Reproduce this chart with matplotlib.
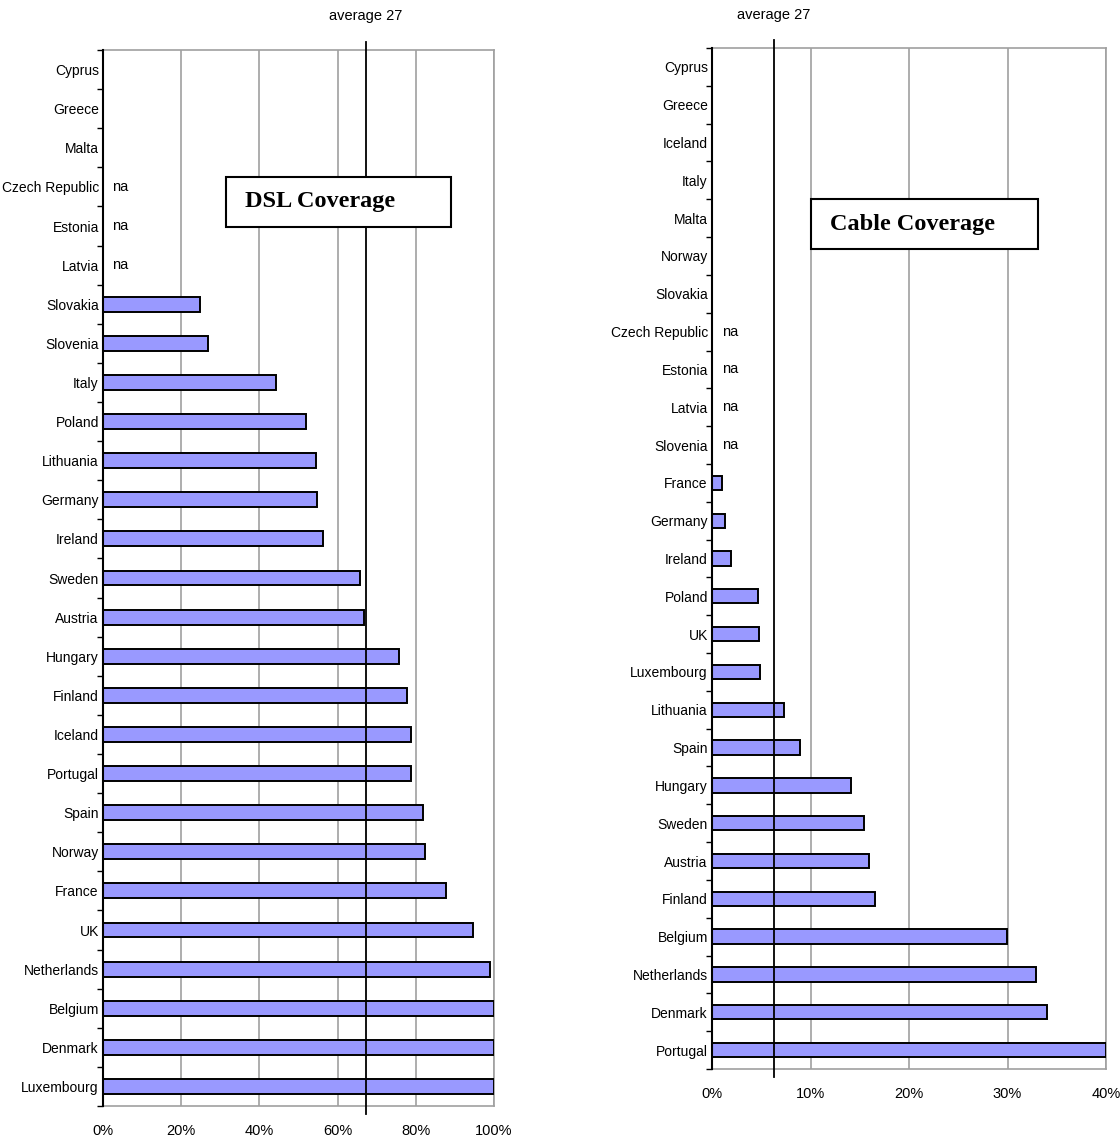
import matplotlib
matplotlib.use("Agg")
import matplotlib.pyplot as plt
from matplotlib.patches import Rectangle
from matplotlib.ticker import FuncFormatter

plt.rcParams["font.family"] = ["Liberation Sans Narrow", "Liberation Sans", "DejaVu Sans"]

# =====================
# data (top -> bottom), None = no bar, "na" = not available
# =====================
dsl_countries = ["Cyprus", "Greece", "Malta", "Czech Republic", "Estonia", "Latvia",
                 "Slovakia", "Slovenia", "Italy", "Poland", "Lithuania", "Germany",
                 "Ireland", "Sweden", "Austria", "Hungary", "Finland", "Iceland",
                 "Portugal", "Spain", "Norway", "France", "UK", "Netherlands",
                 "Belgium", "Denmark", "Luxembourg"]
dsl_values = [None, None, None, "na", "na", "na",
              24.8, 26.9, 44.2, 51.9, 54.5, 54.7,
              56.3, 65.7, 66.8, 75.7, 77.7, 78.8,
              78.8, 81.8, 82.4, 87.7, 94.6, 99.0,
              100, 100, 100]
dsl_average = 67.3

cable_countries = ["Cyprus", "Greece", "Iceland", "Italy", "Malta", "Norway", "Slovakia",
                   "Czech Republic", "Estonia", "Latvia", "Slovenia", "France", "Germany",
                   "Ireland", "Poland", "UK", "Luxembourg", "Lithuania", "Spain",
                   "Hungary", "Sweden", "Austria", "Finland", "Belgium", "Netherlands",
                   "Denmark", "Portugal"]
cable_values = [None, None, None, None, None, None, None,
                "na", "na", "na", "na", 1.0, 1.3,
                1.9, 4.7, 4.8, 4.9, 7.3, 8.9,
                14.1, 15.4, 15.9, 16.5, 29.9, 32.9,
                34.0, 40.0]
cable_average = 6.3

W, H = 1120, 1145
BAR_COLOR = "#9999ff"
FS = 10.5


def draw_panel(fig, rect, countries, values, xmax, step, average, title, box):
    ax = fig.add_axes(rect)
    n = len(countries)
    ys = list(range(n))
    for y, v in zip(ys, values):
        if isinstance(v, (int, float)):
            ax.barh(y, v, height=0.38, color=BAR_COLOR, edgecolor="black",
                    linewidth=1.4, zorder=3)
        elif v == "na":
            ax.text(xmax * 0.045, y, "na", ha="center", va="center", fontsize=FS)

    ax.set_ylim(n - 0.5, -0.5)
    ax.set_xlim(0, xmax)
    ax.set_yticks([y - 0.5 for y in range(n + 1)])
    ax.set_yticklabels([])
    ax.set_yticks(ys, minor=True)
    ax.set_yticklabels(countries, minor=True, fontsize=10)
    ax.tick_params(axis="y", which="minor", length=0, pad=3)
    ax.tick_params(axis="y", which="major", length=4, width=1, color="black")

    ax.set_xticks([i * step for i in range(int(round(xmax / step)) + 1)])
    ax.xaxis.set_major_formatter(FuncFormatter(lambda x, p: f"{x:.0f}%"))
    ax.tick_params(axis="x", length=0, pad=13, labelsize=FS)
    ax.grid(axis="x", color="#a0a0a0", linewidth=1.2, zorder=0)

    for side in ["top", "right", "bottom"]:
        ax.spines[side].set_color("#a0a0a0")
        ax.spines[side].set_linewidth(1.2)
    ax.spines["left"].set_color("black")
    ax.spines["left"].set_linewidth(1.5)
    ax.spines["left"].set_zorder(5)

    # average line sticks out of the plot area
    ax.plot([average, average], [-0.7, n - 0.3], color="black", linewidth=1.3,
            zorder=4, clip_on=False)
    ax.text(average, -1.2, "average 27", ha="center", va="bottom", fontsize=FS)

    # title box
    x0, y0, x1, y1 = box
    fig.add_artist(Rectangle((x0 / W, 1 - y1 / H), (x1 - x0) / W, (y1 - y0) / H,
                             transform=fig.transFigure, facecolor="white",
                             edgecolor="black", linewidth=1.5, zorder=10))
    fig.text((x0 + 19) / W, 1 - (y0 + y1) / 2 / H, title,
             family=["Liberation Serif", "DejaVu Serif"], fontweight="bold",
             fontsize=17.5, va="center", ha="left", zorder=11)
    return ax


fig = plt.figure(figsize=(W / 100, H / 100), dpi=100)

draw_panel(fig, [103 / W, 1 - 1106 / H, 391 / W, 1056 / H],
           dsl_countries, dsl_values, 100, 20, dsl_average,
           "DSL Coverage", (226, 177, 451, 227))
draw_panel(fig, [712 / W, 1 - 1069 / H, 394 / W, 1021 / H],
           cable_countries, cable_values, 40, 10, cable_average,
           "Cable Coverage", (811, 199, 1038, 249))

plt.savefig("out.png", dpi=100)
plt.close()
